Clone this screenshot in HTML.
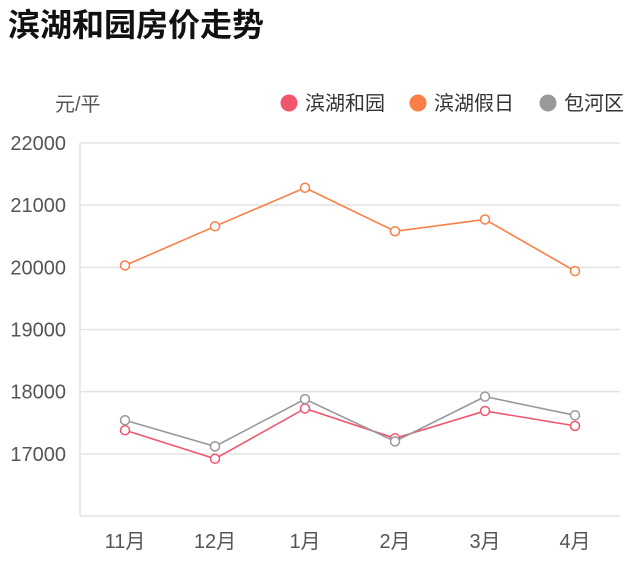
<!DOCTYPE html>
<html><head><meta charset="utf-8"><style>
body{margin:0;background:#fff;font-family:"Liberation Sans","Noto Sans CJK SC",sans-serif}
</style></head><body>
<svg width="640" height="570" xmlns="http://www.w3.org/2000/svg" style="font-family:'Liberation Sans','Noto Sans CJK SC',sans-serif">
<text x="8" y="36" font-size="32" font-weight="bold" fill="#111">滨湖和园房价走势</text>
<text x="55" y="111" font-size="20" fill="#555">元/平</text>
<g id="legend"></g>
<g id="grid"></g><g id="series"></g>
</svg>
<script>
const categories=["11月","12月","1月","2月","3月","4月"];
const yTicks=[17000,18000,19000,20000,21000,22000];
const seriesNames=["滨湖和园","滨湖假日","包河区"];
const seriesColors=["#f0556c","#fb7e46","#999999"];
const s1=[17380,16920,17730,17250,17690,17450];
const s2=[20030,20660,21280,20580,20770,19940];
const s3=[17540,17120,17880,17200,17920,17620];
const ns="http://www.w3.org/2000/svg";
const X0=80,X1=620,Y0=516,YMIN=16000,YMAX=22000,YTOP=143;
const xs=i=>X0+(X1-X0)/categories.length*(i+0.5);
const ys=v=>Y0-(v-YMIN)/(YMAX-YMIN)*(Y0-YTOP);
function mk(t,a,p){const e=document.createElementNS(ns,t);for(const k in a)e.setAttribute(k,a[k]);p.appendChild(e);return e;}
const grid=document.getElementById('grid');
yTicks.forEach(v=>{
 const l=mk('line',{x1:X0,x2:X1,y1:ys(v),y2:ys(v),stroke:'#e3e3e3','stroke-width':1.5},grid);
 
 
 const t=mk('text',{x:66,y:ys(v)+7,'text-anchor':'end','font-size':20,fill:'#555'},grid);t.textContent=v;
 
 
});
const ax=mk('line',{x1:X0,x2:X0,y1:YTOP,y2:Y0,stroke:'#e3e3e3','stroke-width':1.5},grid);


const bx=mk('line',{x1:X0,x2:X1,y1:Y0,y2:Y0,stroke:'#e3e3e3','stroke-width':1.5},grid);


categories.forEach((c,i)=>{const t=mk('text',{x:xs(i),y:548,'text-anchor':'middle','font-size':20,fill:'#555'},grid);t.textContent=c;
 
 });
const sg=document.getElementById('series');
[s1,s2,s3].forEach((d,si)=>{
 const pl=mk('polyline',{points:d.map((v,i)=>xs(i)+','+ys(v)).join(' '),fill:'none',stroke:seriesColors[si],'stroke-width':1.6},sg);
 
 
 d.forEach((v,i)=>{const c=mk('circle',{cx:xs(i),cy:ys(v),r:4.5,fill:'#fff',stroke:seriesColors[si],'stroke-width':1.5},sg);
  
  });
});
const lg=document.getElementById('legend');
const lx=[289,418,548];
seriesNames.forEach((n,i)=>{
 const c=mk('circle',{cx:lx[i],cy:103,r:8.5,fill:seriesColors[i]},lg);
 
 
 const t=mk('text',{x:lx[i]+16,y:110,'font-size':20,fill:'#333'},lg);t.textContent=n;
 
 
});
</script>
</body></html>
